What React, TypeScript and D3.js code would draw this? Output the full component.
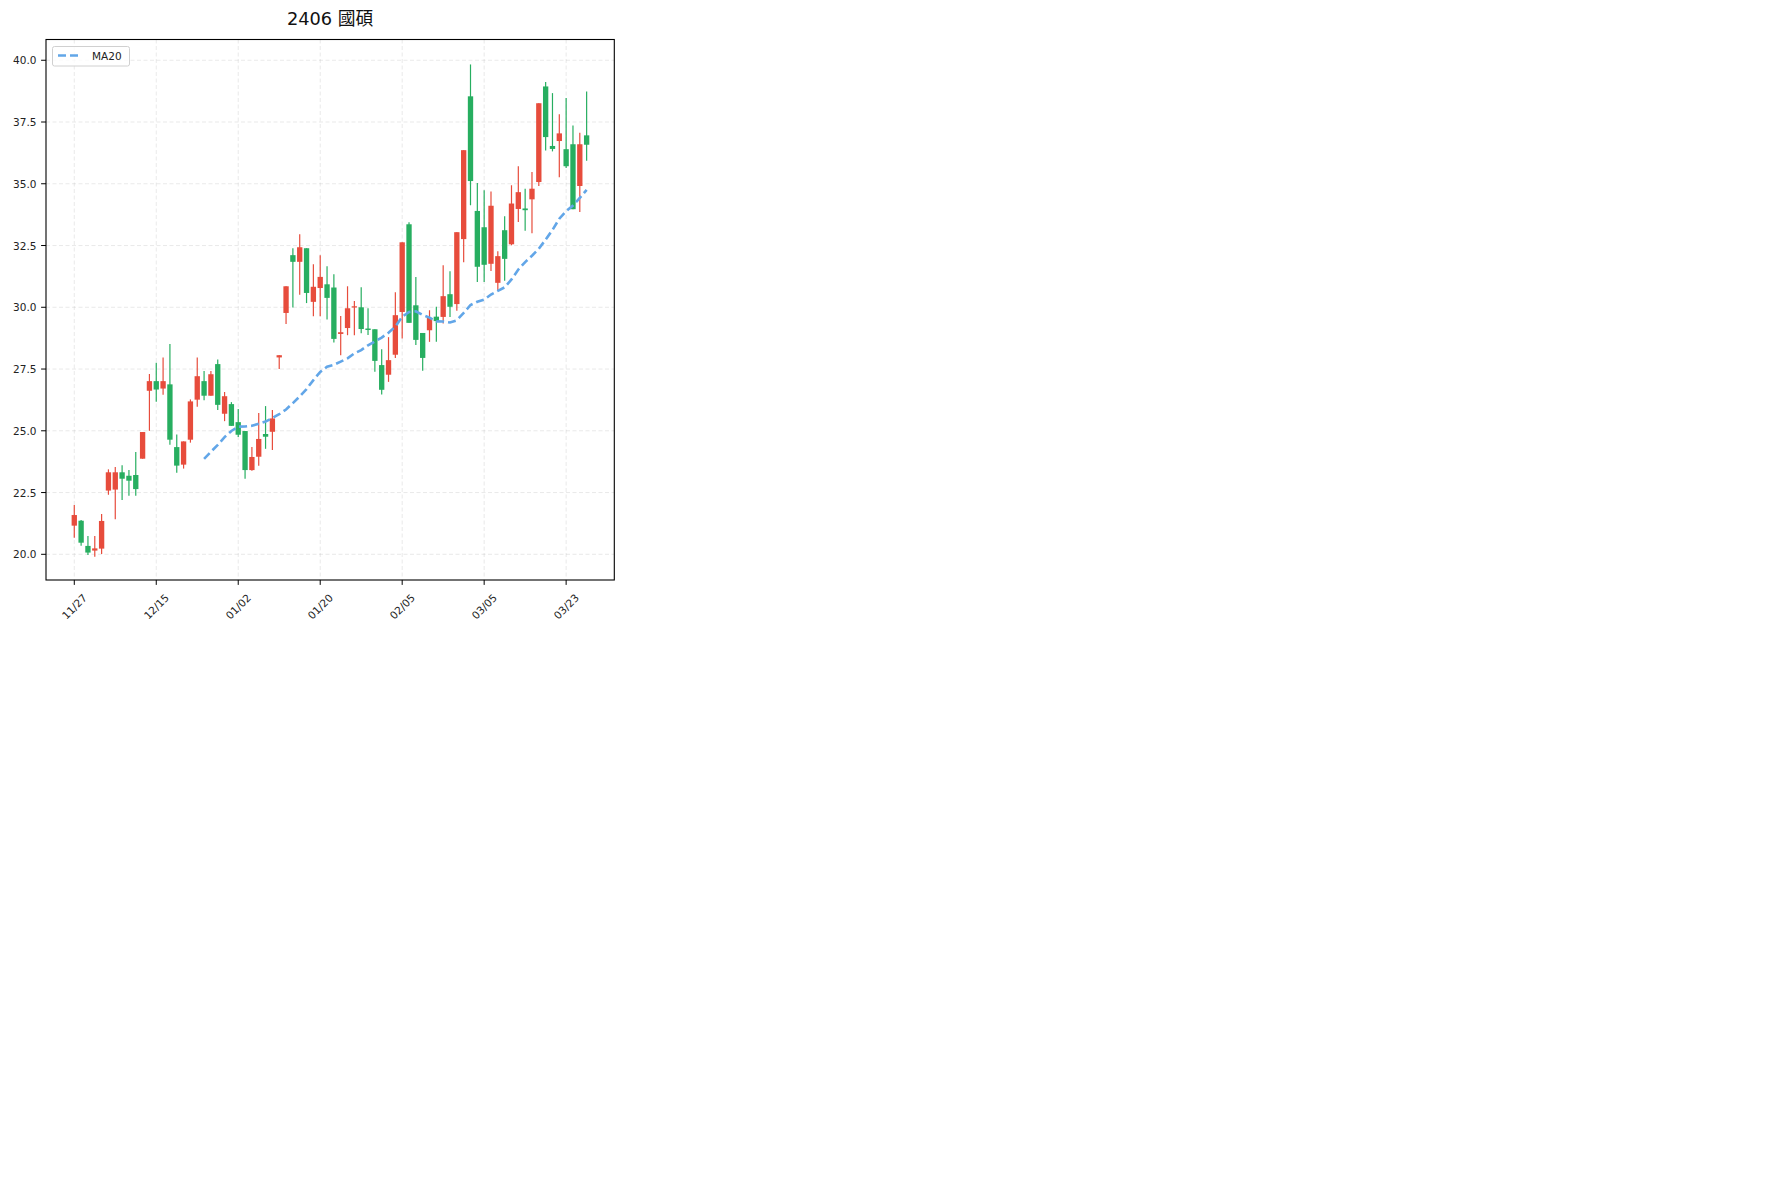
import React from "react";
import * as d3 from "d3";

const TITLE = "2406 國碩";
const opens = [21.16,21.36,20.34,20.15,20.23,22.58,22.62,23.32,23.18,23.21,
  23.87,26.62,27.01,26.71,26.88,24.34,23.63,24.64,26.26,27.01,
  26.42,27.7,25.69,26.08,25.35,24.99,23.41,23.95,24.87,24.96,
  27.97,29.77,32.11,31.84,32.39,30.22,30.78,30.93,30.8,28.92,
  29.16,29.99,30.0,29.14,29.11,27.66,27.27,28.08,29.81,33.36,
  30.08,28.96,29.07,29.62,29.61,30.53,30.13,32.76,38.54,33.9,
  33.24,31.76,30.99,33.12,32.55,33.98,34.0,34.37,35.07,38.94,
  36.53,36.73,36.4,36.6,34.91,36.96];
const closes = [21.59,20.47,20.07,20.24,21.35,23.32,23.32,23.06,22.98,22.64,
  24.95,27.01,26.67,27.01,24.64,23.59,24.57,26.19,27.21,26.42,
  27.29,26.05,26.4,25.2,24.84,23.41,23.94,24.67,24.76,25.5,
  28.06,30.85,31.84,32.43,30.58,30.83,31.23,30.38,28.72,28.99,
  29.96,30.04,29.12,29.08,27.83,26.66,27.86,29.68,32.63,29.37,
  28.68,27.95,29.57,29.44,30.45,30.02,33.04,36.36,35.11,31.64,
  31.72,34.11,32.07,31.96,34.2,34.66,33.93,34.8,38.26,36.89,
  36.41,37.04,35.71,33.97,36.6,36.58];
const highs = [22.0,21.39,20.74,20.74,21.63,23.44,23.53,23.61,23.41,24.14,
  24.95,27.3,27.75,27.97,28.51,24.85,24.57,26.27,27.97,27.42,
  27.42,27.89,26.57,26.16,25.88,24.99,24.34,25.72,26.0,25.84,
  28.06,30.85,32.39,32.96,32.39,31.74,32.11,31.66,31.34,29.65,
  30.85,30.25,30.81,29.96,29.11,28.3,28.79,30.61,32.63,33.44,
  31.23,28.96,29.88,30.02,31.7,31.46,33.04,36.36,39.83,35.03,
  34.74,34.69,32.27,33.69,34.94,35.71,34.8,35.48,38.26,39.12,
  38.67,37.81,38.47,37.36,37.07,38.74];
const lows = [20.67,20.35,19.97,19.9,20.01,22.41,21.42,22.2,22.37,22.37,
  23.87,25.0,26.18,26.46,24.44,23.3,23.47,24.52,25.97,26.24,
  26.42,25.84,25.39,25.2,24.75,23.06,23.38,23.59,24.27,24.22,
  27.5,29.32,29.99,30.51,30.17,29.64,29.64,29.51,28.57,28.06,
  28.87,28.87,28.95,28.88,27.39,26.47,26.98,27.95,28.74,29.37,
  28.47,27.43,28.6,28.6,29.34,29.61,29.86,31.82,34.13,31.02,
  31.02,31.47,30.69,31.07,32.51,33.45,33.1,33.0,34.91,36.35,
  36.31,35.26,35.64,33.97,33.86,35.93];
const tickIdx = [0, 12, 24, 36, 48, 60, 72];
const tickLabels = ["11/27", "12/15", "01/02", "01/20", "02/05", "03/05", "03/23"];
const yTicks = [20.0, 22.5, 25.0, 27.5, 30.0, 32.5, 35.0, 37.5, 40.0];
const MA_N = 20;

const W = 1790, H = 1190;
const L = 46, R = 614.3, T = 39.5, B = 580;
const FONT = "'DejaVu Sans', 'Noto Sans CJK TC', sans-serif";
const UP = "#e74c3c", DOWN = "#27ae60", MA_COLOR = "#62a6e8";

export default function App() {
  const n = closes.length;
  const x = d3.scaleLinear().domain([-4.14, 79.05]).range([L, R]);
  const y = d3.scaleLinear().domain([18.96, 40.84]).range([B, T]);
  const step = x(1) - x(0);
  const bw = step * 0.78;

  const ma: { i: number; v: number }[] = [];
  for (let i = MA_N - 1; i < n; i++) {
    ma.push({ i, v: d3.mean(closes.slice(i - MA_N + 1, i + 1)) as number });
  }
  const line = d3.line<{ i: number; v: number }>().x(d => x(d.i)).y(d => y(d.v));

  return (
    <svg width={W} height={H} style={{ position: "absolute", left: 0, top: 0, background: "#fff" }} fontFamily={FONT}>
      <text x={(L + R) / 2} y={25.3} textAnchor="middle" fontSize={17.8} fill="#111">{TITLE}</text>
      {/* grid */}
      <g stroke="#b0b0b0" strokeOpacity={0.35} strokeWidth={0.8} strokeDasharray="4 2.5">
        {yTicks.map(t => <line key={"gy" + t} x1={L} x2={R} y1={y(t)} y2={y(t)} />)}
        {tickIdx.map(t => <line key={"gx" + t} x1={x(t)} x2={x(t)} y1={T} y2={B} />)}
      </g>
      {/* candles */}
      <g>
        {closes.map((c, i) => {
          const o = opens[i];
          const col = c >= o ? UP : DOWN;
          const top = y(Math.max(o, c));
          const bot = y(Math.min(o, c));
          return (
            <g key={i}>
              <line x1={x(i)} x2={x(i)} y1={y(highs[i])} y2={y(lows[i])} stroke={col} strokeWidth={1.2} />
              <rect x={x(i) - bw / 2} y={top} width={bw} height={Math.max(bot - top, 1)} fill={col} />
            </g>
          );
        })}
      </g>
      <path d={line(ma) || ""} fill="none" stroke={MA_COLOR} strokeWidth={2.6} strokeDasharray="8 4" />
      {/* frame */}
      <rect x={L} y={T} width={R - L} height={B - T} fill="none" stroke="#000" strokeWidth={1.1} />
      {/* y axis */}
      <g fontSize={10.5} fill="#222">
        {yTicks.map(t => (
          <g key={"yt" + t}>
            <line x1={L - 4.9} x2={L} y1={y(t)} y2={y(t)} stroke="#000" strokeWidth={1} />
            <text x={L - 9.5} y={y(t)} textAnchor="end" dominantBaseline="central">{t.toFixed(1)}</text>
          </g>
        ))}
      </g>
      {/* x axis */}
      <g fontSize={10.5} fill="#222">
        {tickIdx.map((t, k) => (
          <g key={"xt" + t}>
            <line x1={x(t)} x2={x(t)} y1={B} y2={B + 4.9} stroke="#000" strokeWidth={1} />
            <text x={x(t)} y={606.5} textAnchor="middle" dominantBaseline="central"
              transform={`rotate(-45 ${x(t)} 606.5)`}>{tickLabels[k]}</text>
          </g>
        ))}
      </g>
      {/* legend */}
      <g>
        <rect x={52.5} y={46.5} width={77} height={19.5} rx={2} fill="#fff" fillOpacity={0.8} stroke="#d0d0d0" strokeWidth={1} />
        <line x1={58} x2={82} y1={55.5} y2={55.5} stroke={MA_COLOR} strokeWidth={2.6} strokeDasharray="8 4" />
        <text x={92} y={55.8} fontSize={10.5} fill="#222" dominantBaseline="central">MA20</text>
      </g>
    </svg>
  );
}
